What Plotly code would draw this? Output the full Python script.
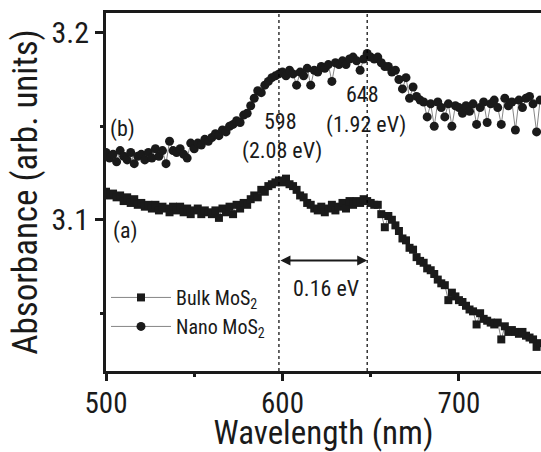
import plotly.graph_objects as go

wavelength = list(range(500, 747, 2))

bulk_mos2 = [
    3.115, 3.113, 3.114, 3.112, 3.113, 3.110, 3.112, 3.109, 3.111, 3.108,
    3.109, 3.107, 3.108, 3.106, 3.108, 3.105, 3.107, 3.106, 3.104, 3.107,
    3.105, 3.107, 3.104, 3.106, 3.103, 3.105, 3.106, 3.103, 3.105, 3.104,
    3.103, 3.105, 3.101, 3.106, 3.104, 3.107, 3.103, 3.108, 3.106, 3.109,
    3.108, 3.111, 3.113, 3.112, 3.116, 3.115, 3.118, 3.119, 3.120, 3.121,
    3.120, 3.122, 3.119, 3.118, 3.116, 3.113, 3.112, 3.109, 3.108, 3.106,
    3.105, 3.107, 3.104, 3.106, 3.108, 3.105, 3.107, 3.109, 3.106, 3.110,
    3.108, 3.110, 3.109, 3.111, 3.110, 3.109, 3.108, 3.108, 3.103, 3.096,
    3.102, 3.100, 3.097, 3.094, 3.090, 3.089, 3.085, 3.084, 3.080, 3.078,
    3.077, 3.074, 3.073, 3.071, 3.068, 3.066, 3.065, 3.057, 3.061, 3.059,
    3.057, 3.056, 3.054, 3.052, 3.051, 3.044, 3.050, 3.047, 3.046, 3.045,
    3.044, 3.045, 3.036, 3.043, 3.040, 3.041, 3.040, 3.039, 3.040, 3.038,
    3.037, 3.036, 3.032, 3.034,
]

nano_mos2 = [
    3.136, 3.133, 3.135, 3.131, 3.137, 3.134, 3.132, 3.136, 3.130, 3.134,
    3.135, 3.132, 3.136, 3.133, 3.138, 3.134, 3.137, 3.130, 3.142, 3.137,
    3.136, 3.138, 3.135, 3.133, 3.141, 3.138, 3.141, 3.140, 3.143, 3.142,
    3.144, 3.146, 3.145, 3.148, 3.147, 3.150, 3.151, 3.153, 3.152, 3.156,
    3.157, 3.161, 3.165, 3.169, 3.168, 3.172, 3.174, 3.176, 3.177, 3.178,
    3.179, 3.177, 3.180, 3.178, 3.172, 3.179, 3.177, 3.181, 3.172, 3.180,
    3.179, 3.182, 3.181, 3.183, 3.174, 3.184, 3.183, 3.185, 3.183, 3.186,
    3.187, 3.185, 3.180, 3.186, 3.189, 3.187, 3.186, 3.187, 3.184, 3.182,
    3.182, 3.179, 3.180, 3.175, 3.170, 3.176, 3.165, 3.171, 3.166, 3.164,
    3.163, 3.155, 3.162, 3.150, 3.163, 3.160, 3.155, 3.162, 3.150, 3.161,
    3.160, 3.157, 3.161, 3.158, 3.162, 3.151, 3.160, 3.163, 3.152, 3.162,
    3.164, 3.160, 3.151, 3.165, 3.161, 3.163, 3.148, 3.164, 3.160, 3.165,
    3.166, 3.162, 3.147, 3.164,
]

x_ticks = [500, 600, 700]
y_ticks = [3.1, 3.2]
peak_bulk = 598
peak_nano = 648

FONT = "Roboto Condensed, DejaVu Sans Condensed, Liberation Sans, Arial, sans-serif"

fig = go.Figure()
fig.add_trace(go.Scatter(
    x=wavelength, y=bulk_mos2, mode="lines+markers", name="Bulk MoS<sub>2</sub>",
    line=dict(color="#666666", width=0.8),
    marker=dict(symbol="square", size=8, color="#1a1a1a"),
))
fig.add_trace(go.Scatter(
    x=wavelength, y=nano_mos2, mode="lines+markers", name="Nano MoS<sub>2</sub>",
    line=dict(color="#666666", width=0.8),
    marker=dict(symbol="circle", size=9, color="#1a1a1a"),
))

for xv in (peak_bulk, peak_nano):
    fig.add_shape(type="line", x0=xv, x1=xv, y0=0, y1=1, xref="x", yref="y domain",
                  line=dict(color="black", width=1.2, dash="dot"))

fig.add_shape(type="line", x0=0, x1=1, y0=1.004, y1=1.004, xref="paper", yref="paper",
              line=dict(color="#1a1a1a", width=3), layer="above")

ann_font = dict(family=FONT, size=22, color="#1a1a1a")
for txt, xv, yv in [("(b)", 509.5, 3.1484), ("(a)", 511, 3.0941),
                    ("598", 599, 3.1527), ("(2.08 eV)", 600, 3.1367),
                    ("648", 645.6, 3.167), ("(1.92 eV)", 647.3, 3.1505),
                    ("0.16 eV", 624.6, 3.0633)]:
    fig.add_annotation(x=xv, y=yv, text=txt, showarrow=False, font=ann_font,
                       xanchor="center", yanchor="middle")

fig.add_annotation(x=peak_nano, y=3.0782, ax=peak_bulk, ay=3.0782, axref="x", ayref="y",
                   text="", showarrow=True, arrowhead=2, arrowside="end+start",
                   arrowwidth=2, arrowsize=1, arrowcolor="#1a1a1a", standoff=0, startstandoff=0)

fig.update_layout(
    width=541, height=452,
    margin=dict(l=106, r=0, t=13, b=79),
    paper_bgcolor="white", plot_bgcolor="white",
    font=dict(family=FONT, color="#1a1a1a"),
    showlegend=True,
    legend=dict(x=0.0, y=0.165, xanchor="left", yanchor="middle",
                font=dict(family=FONT, size=20, color="#1a1a1a"),
                itemwidth=60, bgcolor="rgba(0,0,0,0)", tracegroupgap=0),
    xaxis=dict(range=[500, 746.5], tickvals=x_ticks, showgrid=False, zeroline=False,
               showline=True, linewidth=3, linecolor="#1a1a1a", mirror=True,
               ticks="outside", ticklen=7, tickwidth=2.5, tickcolor="#1a1a1a",
               tickfont=dict(family=FONT, size=29), ticklabelstandoff=-3,
               minor=dict(dtick=50, tick0=500, ticks="outside", ticklen=3, tickwidth=2.5, tickcolor="#1a1a1a"),
               title=dict(text="Wavelength (nm)", font=dict(family=FONT, size=33), standoff=9)),
    yaxis=dict(range=[3.0191, 3.2106], tickvals=y_ticks, ticktext=["3.1", "3.2"],
               showgrid=False, zeroline=False,
               showline=True, linewidth=3, linecolor="#1a1a1a", mirror=False,
               ticks="outside", ticklen=8, tickwidth=2.5, tickcolor="#1a1a1a",
               tickfont=dict(family=FONT, size=30),
               minor=dict(dtick=0.05, tick0=3.0, ticks="outside", ticklen=3, tickwidth=2.5, tickcolor="#1a1a1a"),
               title=dict(text="Absorbance (arb. units)", font=dict(family=FONT, size=35), standoff=4)),
)

fig.write_html("out.html")
